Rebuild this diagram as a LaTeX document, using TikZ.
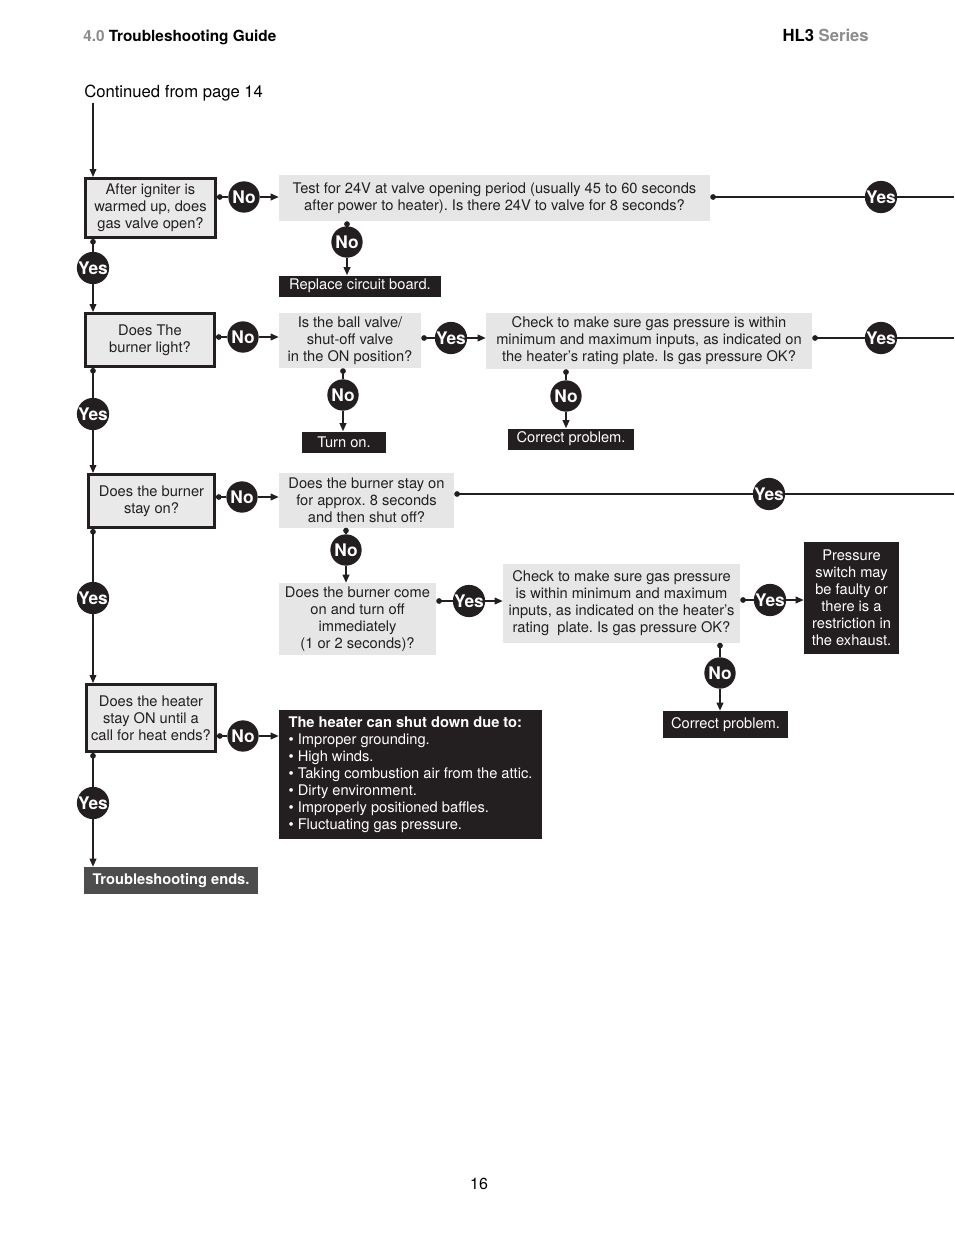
\documentclass[tikz,border=0pt]{standalone}
\usepackage{fontspec}
\setmainfont{TeX Gyre Heros}
\usetikzlibrary{arrows.meta,positioning,calc}
\definecolor{ink}{HTML}{231F20}
\definecolor{panel}{HTML}{E6E6E6}
\definecolor{asked}{HTML}{E9E9E9}
\definecolor{finish}{HTML}{4D4D4D}
\definecolor{headgray}{HTML}{8C8C8C}

\begin{document}
\frenchspacing
\begin{tikzpicture}[x=0.75pt,y=-0.75pt,
   font=\fontsize{11}{12.75}\selectfont,
   sz/.style 2 args={minimum width=#1*0.75pt,minimum height=#2*0.75pt},
   question/.style={draw=ink,line width=2.2pt,fill=asked,text=ink,align=center,inner sep=0pt},
   check/.style={fill=panel,text=ink,align=center,inner sep=0pt},
   action/.style={fill=ink,text=white,align=center,inner sep=0pt},
   answer/.style={circle,fill=ink,text=white,minimum size=23.5pt,inner sep=0pt,
                  font=\fontsize{13}{13}\selectfont\bfseries},
   link/.style={line width=1.1pt,draw=ink},
   outlink/.style={link,{Circle[length=4.2pt]}-},
   inlink/.style={link,-{Triangle[length=6pt,width=5pt]}}]
  \useasboundingbox (0,0) rectangle (954,1235);
  \fill[white] (0,0) rectangle (954,1235);

  % page header
  \node[anchor=base west,inner sep=0pt,font=\fontsize{11.5}{13}\selectfont\bfseries] (head)
    at (83,41) {\textcolor{headgray}{4.0} Troubleshooting Guide};
  \node[anchor=base east,inner sep=0pt,font=\fontsize{12.5}{13}\selectfont\bfseries] (series)
    at (869,41) {HL3 \textcolor{headgray}{Series}};
  \node[anchor=base west,inner sep=0pt,font=\fontsize{12.5}{14}\selectfont] (cont)
    at (84,97) {Continued from page 14};
  \node[anchor=base,font=\fontsize{12}{14}\selectfont] (page) at (479,1189) {16};

  % questions
  \node[question,sz={130}{59}] (q1) at (150.5,208) {After igniter is\\warmed up, does\\gas valve open?};
  \node[question,sz={129}{53}] (q2) at (150,340) {Does The\\burner light?};
  \node[question,sz={126}{53}] (q3) at (151.5,501) {Does the burner\\stay on?};
  \node[question,sz={129}{67}] (q4) at (151,718) {Does the heater\\stay ON until a\\call for heat ends?};

  % checks
  \node[check,sz={431}{46}] (c1) at (494.5,198)
    {Test for 24V at valve opening period (usually 45 to 60 seconds\\after power to heater). Is there 24V to valve for 8 seconds?};
  \node[check,sz={142}{55}] (c2) at (350,340.5) {Is the ball valve/\\shut-off valve\\in the ON position?};
  \node[check,sz={326}{56}] (c3) at (649,341)
    {Check to make sure gas pressure is within\\minimum and maximum inputs, as indicated on\\the heater’s rating plate. Is gas pressure OK?};
  \node[check,sz={175}{55}] (c4) at (366.5,500) {Does the burner stay on\\for approx. 8 seconds\\and then shut off?};
  \node[check,sz={157}{72}] (c5) at (357.5,619) {Does the burner come\\on and turn off\\immediately\\(1 or 2 seconds)?};
  \node[check,sz={237}{79}] (c6) at (621.5,603)
    {Check to make sure gas pressure\\is within minimum and maximum\\inputs, as indicated on the heater’s\\rating\ \ plate. Is gas pressure OK?};

  % actions
  \node[action,sz={162}{21}] (a1) at (360,286) {Replace circuit board.};
  \node[action,sz={84}{21}] (a2) at (344,442) {Turn on.};
  \node[action,sz={126}{21}] (a3) at (571,439) {Correct problem.};
  \node[action,sz={95}{112}] (a4) at (851.5,598) {Pressure\\switch may\\be faulty or\\there is a\\restriction in\\the exhaust.};
  \node[action,sz={125}{27}] (a5) at (725.5,724.5) {Correct problem.};
  \node[action,align=left,sz={263}{129}] (a6) at (410.5,774.5)
    {\textbf{The heater can shut down due to:}\\\textbullet\ Improper grounding.\\\textbullet\ High winds.\\
     \textbullet\ Taking combustion air from the attic.\\\textbullet\ Dirty environment.\\
     \textbullet\ Improperly positioned baffles.\\\textbullet\ Fluctuating gas pressure.};
  \node[action,fill=finish,sz={174}{27}] (a7) at (171,880.5) {\textbf{Troubleshooting ends.}};

  % answers
  \node[answer] (no1) at (244,197) {No};
  \node[answer] (yes1) at (93,268) {Yes};
  \node[answer] (no2) at (347,242) {No};
  \node[answer] (yes2) at (881,197) {Yes};
  \node[answer] (no3) at (243,337) {No};
  \node[answer] (yes3) at (451,338) {Yes};
  \node[answer] (yes4) at (881,338) {Yes};
  \node[answer] (no4) at (343,395) {No};
  \node[answer] (no5) at (566,396) {No};
  \node[answer] (yes5) at (93,414) {Yes};
  \node[answer] (no6) at (242,497) {No};
  \node[answer] (yes6) at (769,494) {Yes};
  \node[answer] (no7) at (346,550) {No};
  \node[answer] (yes7) at (469,601) {Yes};
  \node[answer] (yes8) at (770,600) {Yes};
  \node[answer] (no8) at (720,673) {No};
  \node[answer] (yes9) at (93,598) {Yes};
  \node[answer] (no9) at (243,736) {No};
  \node[answer] (yes10) at (93,803) {Yes};
  \coordinate (edge) at (954,0);

  % connectors
  \draw[inlink] (cont.south -| yes1) ++(0,2) -- (q1.north -| yes1);
  \foreach \src/\ans/\dst in {q1/no1/c1,q2/no3/c2,c2/yes3/c3,q3/no6/c4,c5/yes7/c6,c6/yes8/a4,q4/no9/a6}{
    \draw[outlink] (\src.east |- \ans) -- (\ans);
    \draw[inlink] (\ans) -- (\dst.west |- \ans);
  }
  \foreach \src/\ans/\dst in {q1/yes1/q2,q2/yes5/q3,q3/yes9/q4,q4/yes10/a7,
                              c1/no2/a1,c2/no4/a2,c3/no5/a3,c4/no7/c5,c6/no8/a5}{
    \draw[outlink] (\src.south -| \ans) -- (\ans);
    \draw[inlink] (\ans) -- (\dst.north -| \ans);
  }
  \foreach \src/\ans in {c1/yes2,c3/yes4,c4/yes6}{
    \draw[outlink] (\src.east |- \ans) -- (\ans);
    \draw[link] (\ans) -- (\ans -| edge);
  }
\end{tikzpicture}
\end{document}
